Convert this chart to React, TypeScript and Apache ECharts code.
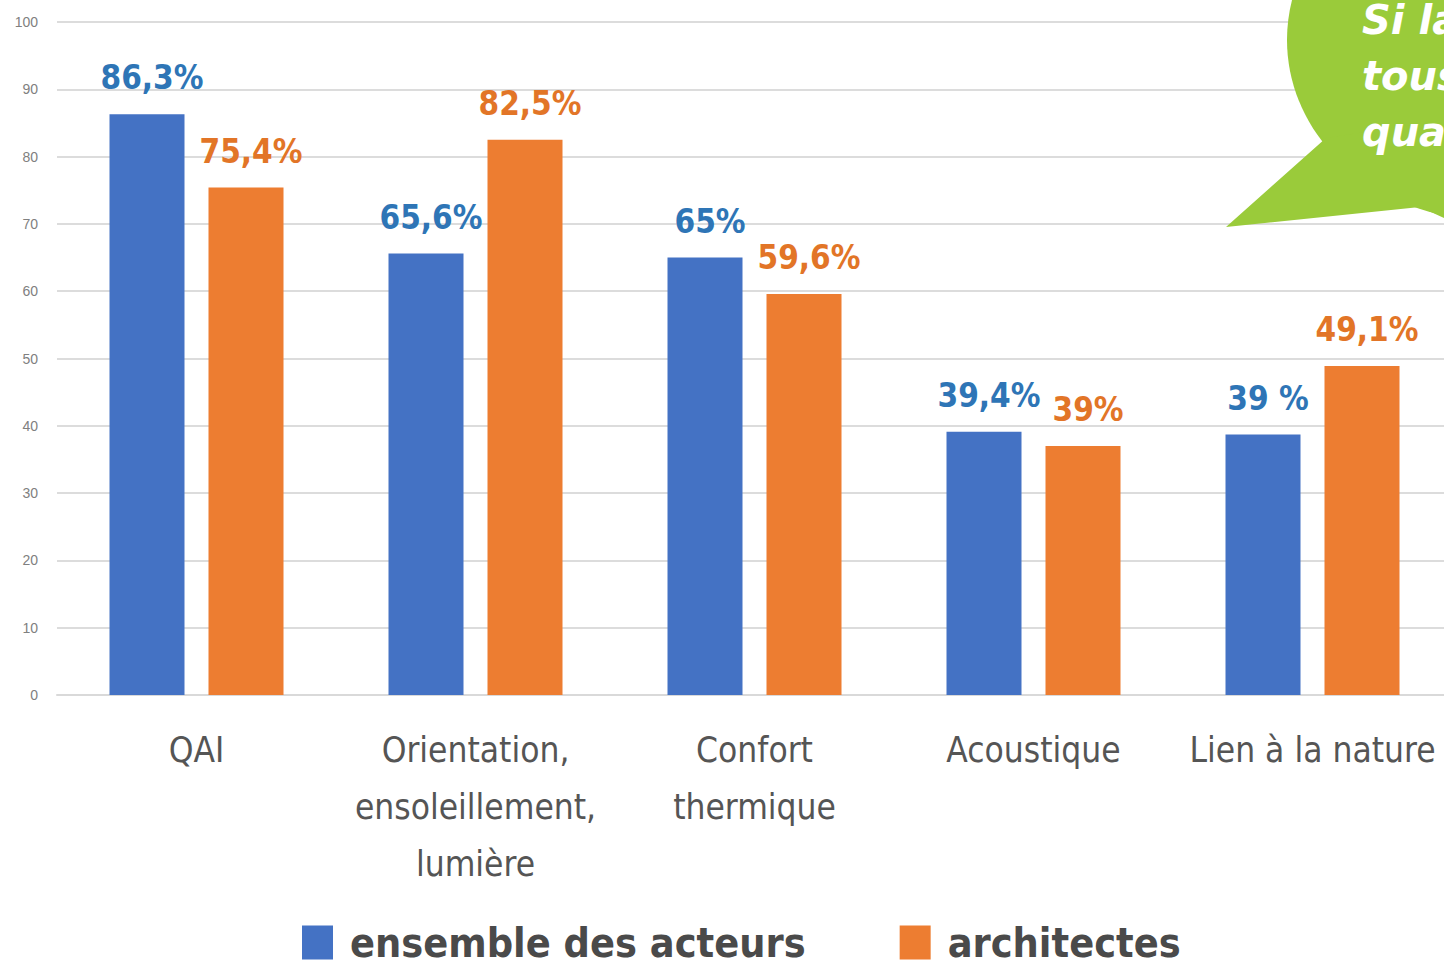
import React, { useEffect, useRef } from "react";
import * as echarts from "echarts";

const categories = [
  "QAI",
  "Orientation,\nensoleillement,\nlumière",
  "Confort\nthermique",
  "Acoustique",
  "Lien à la nature",
];
const seriesNames = ["ensemble des acteurs", "architectes"];
const ensembleValues = [86.3, 65.6, 65, 39.1, 38.7];
const architectesValues = [75.4, 82.5, 59.6, 37, 48.9];
const ensembleLabels = ["86,3%", "65,6%", "65%", "39,4%", "39 %"];
const architectesLabels = ["75,4%", "82,5%", "59,6%", "39%", "49,1%"];
const yTicks = { min: 0, max: 100, interval: 10 };
const bubbleLines = ["Si la", "tous", "qua"];

const FONT = "'DejaVu Sans Condensed', 'Liberation Sans', sans-serif";
const BLUE = "#4472C4";
const ORANGE = "#ED7D31";
const GREEN = "#9ACB3A";

export default function App() {
  const ref = useRef<HTMLDivElement>(null);
  useEffect(() => {
    if (!ref.current) return;
    const chart = echarts.init(ref.current, null, { renderer: "svg" });
    const labelStyle = (color: string, labels: string[]) => ({
      show: true,
      position: "top",
      distance: 20,
      offset: [5, 0],
      color,
      fontFamily: FONT,
      fontWeight: "bold",
      fontSize: 33,
      formatter: (p: any) => labels[p.dataIndex],
    });
    chart.setOption({
      animation: false,
      backgroundColor: "#ffffff",
      grid: {
        left: 57,
        width: 1395,
        top: 22,
        bottom: 275,
        containLabel: false,
        outerBoundsMode: "none",
      },
      legend: {
        data: seriesNames,
        left: 302,
        top: 922,
        padding: 0,
        itemWidth: 31,
        itemHeight: 34,
        itemGap: 94,
        icon: "rect",
        textStyle: {
          fontFamily: FONT,
          fontWeight: "bold",
          fontSize: 41,
          lineHeight: 40,
          color: "#4a4a4a",
          padding: [0, 0, 0, 12],
        },
      },
      xAxis: {
        type: "category",
        data: categories,
        axisTick: { show: false },
        axisLine: { show: true, lineStyle: { color: "#d9d9d9", width: 2 } },
        axisLabel: {
          interval: 0,
          margin: 26,
          fontFamily: FONT,
          fontSize: 35,
          lineHeight: 57,
          color: "#555555",
          verticalAlign: "top",
        },
      },
      yAxis: {
        type: "value",
        min: yTicks.min,
        max: yTicks.max,
        interval: yTicks.interval,
        axisLine: { show: false },
        axisTick: { show: false },
        splitLine: { lineStyle: { color: "#dcdcdc", width: 2 } },
        axisLabel: {
          margin: 19,
          fontFamily: "'Liberation Sans', sans-serif",
          fontSize: 14,
          color: "#808080",
        },
      },
      series: [
        {
          name: seriesNames[0],
          type: "bar",
          data: ensembleValues,
          barWidth: 75,
          barGap: "32%",
          itemStyle: { color: BLUE },
          label: labelStyle("#2E75B6", ensembleLabels),
        },
        {
          name: seriesNames[1],
          type: "bar",
          data: architectesValues,
          barWidth: 75,
          barGap: "32%",
          itemStyle: { color: ORANGE },
          label: labelStyle("#E27527", architectesLabels),
        },
      ],
      graphic: [
        {
          type: "ellipse",
          z: 100,
          silent: true,
          shape: { cx: 1490, cy: 40, rx: 203, ry: 180 },
          style: { fill: GREEN },
        },
        {
          type: "polygon",
          z: 100,
          silent: true,
          shape: { points: [[1326, 138], [1226, 227], [1420, 207], [1444, 218], [1444, 120]] },
          style: { fill: GREEN },
        },
        ...bubbleLines.map((t, i) => ({
          type: "text",
          z: 101,
          silent: true,
          x: 1362,
          y: 20 + i * 56,
          style: {
            text: t,
            fill: "#ffffff",
            fontFamily: "'DejaVu Sans', sans-serif",
            fontStyle: "italic",
            fontWeight: "bold",
            fontSize: 40,
            verticalAlign: "middle",
            align: "left",
          },
        })),
      ],
    });
    return () => chart.dispose();
  }, []);
  return (
    <div
      ref={ref}
      style={{ position: "absolute", left: 0, top: 0, width: 1444, height: 970 }}
    />
  );
}
